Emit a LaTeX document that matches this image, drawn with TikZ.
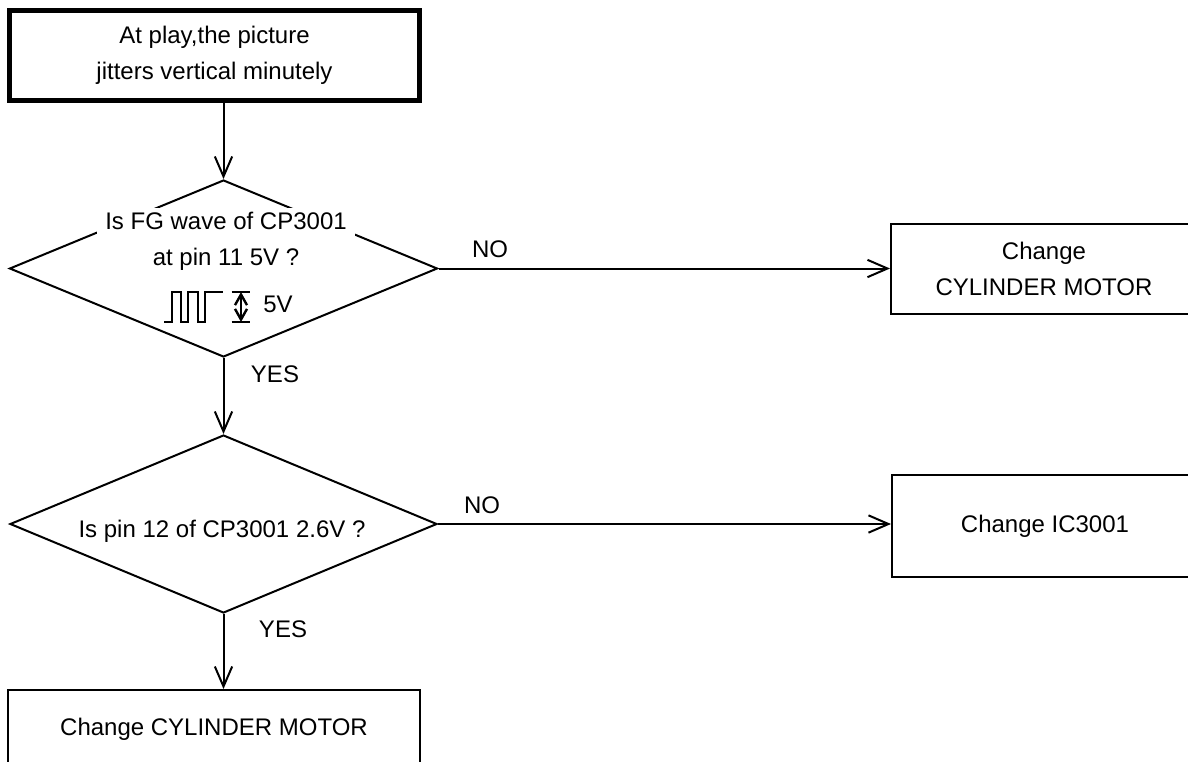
\documentclass[tikz,border=0pt]{standalone}
\usepackage{fontspec}
\setmainfont{Liberation Sans}
\usetikzlibrary{shapes.geometric,arrows.meta}
\begin{document}
\begin{tikzpicture}[x=0.75pt,y=-0.75pt,
  every node/.style={font=\fontsize{18}{27}\selectfont},
  thin box/.style={draw,line width=1.5pt,align=center,inner sep=0pt,rectangle},
  thick box/.style={draw,line width=3.75pt,align=center,inner sep=0pt,rectangle},
  decision/.style={draw,diamond,line width=1.5pt,inner sep=0pt},
  arr/.style={line width=1.5pt,-{Straight Barb[length=15pt,width=13pt]}},
  sym/.style={line width=2pt},
  smallarr/.style={line width=1.8pt,{Straight Barb[length=8pt,width=9pt]}-{Straight Barb[length=8pt,width=9pt]}}
]
\useasboundingbox (0,0) rectangle (1188,761);
\clip (0,0) rectangle (1188,761);

% boxes
\node[thick box,minimum width=307.5pt,minimum height=67.5pt] (start) at (214.5,55.5)
  {At play,the picture\\jitters vertical minutely};
\node[thin box,minimum width=229.5pt,minimum height=67.5pt] (b2) at (1044,269)
  {Change\\CYLINDER MOTOR};
\node[thin box,minimum width=229.5pt,minimum height=76.5pt] (b3) at (1045,526)
  {Change IC3001};
\node[thin box,minimum width=309pt,minimum height=58.5pt] (b4) at (214,729)
  {Change CYLINDER MOTOR};

% decisions
\node[decision,minimum width=321pt,minimum height=132.75pt] (d1) at (223.5,268.5) {};
\node[decision,minimum width=320.25pt,minimum height=133.5pt] (d2) at (223.5,524) {};

% decision texts
\node[fill=white,inner xsep=6pt,inner ysep=3pt,align=center] (q1) at (226,241)
  {Is FG wave of CP3001\\at pin 11 5V ?};
\node (q2) at (222,531) {Is pin 12 of CP3001 2.6V ?};

% square wave symbol
\draw[sym] (164,322) -- (172,322) -- (172,292) -- (181,292) -- (181,322) -- (188,322)
  -- (188,292) -- (198,292) -- (198,322) -- (205,322) -- (205,292) -- (223,292);
\coordinate (ua) at (241,292);
\coordinate (ub) at (241,322);
\draw[smallarr] (ua) -- (ub);
\draw[sym] ([xshift=-7pt]ua) -- ([xshift=7pt]ua);
\draw[sym] ([xshift=-7pt]ub) -- ([xshift=7pt]ub);
\node (fv) at (278,304) {5V};

% connectors
\draw[arr] (d1.north |- start.south) -- (d1.north);
\draw[arr] (d1.south) -- (d2.north);
\draw[arr] (d2.south) -- (d2.south |- b4.north);
\draw[arr] (d1.east) -- (d1.east -| b2.west);
\draw[arr] (d2.east) -- (d2.east -| b3.west);

% labels
\node (no1) at (490,249) {NO};
\node (no2) at (482,505) {NO};
\node (yes1) at (275,374) {YES};
\node (yes2) at (283,629) {YES};
\end{tikzpicture}
\end{document}
